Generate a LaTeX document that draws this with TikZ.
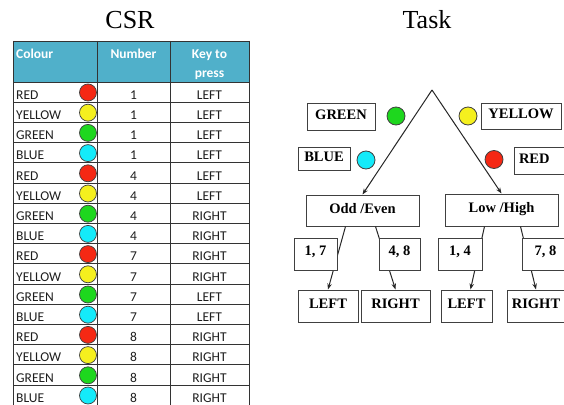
\documentclass[tikz,border=0pt]{standalone}
\usepackage{fontspec}
\setmainfont{Liberation Serif}
\newfontfamily\calib{Carlito}
\usetikzlibrary{arrows.meta}
\definecolor{cRED}{RGB}{245,40,20}
\definecolor{cYELLOW}{RGB}{245,240,30}
\definecolor{cGREEN}{RGB}{30,215,30}
\definecolor{cBLUE}{RGB}{20,235,250}
\definecolor{headbg}{RGB}{80,176,202}
\definecolor{celltxt}{RGB}{30,30,30}
\tikzset{
  titletext/.style={font=\fontsize{26}{26}\selectfont, inner sep=0, anchor=base},
  celltext/.style={font=\calib\fontsize{13.5}{13.5}\selectfont, text=celltxt, inner sep=0},
  headtext/.style={font=\calib\bfseries\fontsize{13.5}{13.5}\selectfont, text=white, inner sep=0},
  gridline/.style={draw=black!80, line width=0.8pt},
  dot/.style={circle, draw=black!75, line width=0.7pt, minimum size=17pt, inner sep=0},
  tdot/.style={circle, draw=black!75, line width=0.8pt, minimum size=18pt, inner sep=0},
  tbox/.style={draw=black!75, fill=white, line width=1pt, inner ysep=0, inner xsep=0,
    font=\bfseries\fontsize{14.5}{14.5}\selectfont, text height=10pt, text depth=5pt},
  conn/.style={draw=black!85, line width=1pt, -{Stealth[length=6pt,width=4.5pt]}},
}
\begin{document}
\begin{tikzpicture}[x=1pt,y=-1pt]
\useasboundingbox (0,0) rectangle (564,404);
\clip (0,0) rectangle (564,404);
\fill[white] (0,0) rectangle (564,404);
% titles
\node[titletext] (csr) at (130,29) {CSR};
\node[titletext] (task) at (427,29) {Task};
% table header
\fill[headbg] (13,41) rectangle (249,82);
\node[headtext, anchor=base west] (hcol) at (16,58.5) {Colour};
\node[headtext, anchor=base] (hnum) at (133.5,58.5) {Number};
\node[headtext, anchor=base] (hkey1) at (209.5,58.5) {Key to};
\node[headtext, anchor=base] (hkey2) at (209.5,77) {press};
% grid
\foreach \j in {0,...,16} {
  \draw[gridline] (13,{82+\j*20.2}) -- (249,{82+\j*20.2});
}
\draw[gridline] (13,41) -- (249,41);
\foreach \xx in {13,97,170,249} {
  \draw[gridline] (\xx,41) -- (\xx,410);
}
% rows
\foreach \c/\n/\k [count=\i] in {RED/1/LEFT, YELLOW/1/LEFT, GREEN/1/LEFT, BLUE/1/LEFT,
  RED/4/LEFT, YELLOW/4/LEFT, GREEN/4/RIGHT, BLUE/4/RIGHT,
  RED/7/RIGHT, YELLOW/7/RIGHT, GREEN/7/LEFT, BLUE/7/LEFT,
  RED/8/RIGHT, YELLOW/8/RIGHT, GREEN/8/RIGHT, BLUE/8/RIGHT} {
  \pgfmathsetmacro\rtop{82+(\i-1)*20.2}
  \node[celltext, anchor=base west] (col\i) at (16,{\rtop+17.2}) {\c};
  \node[dot, fill=c\c] (dot\i) at (88,{\rtop+10.5}) {};
  \node[celltext, anchor=base] (num\i) at (133.5,{\rtop+17.2}) {\n};
  \node[celltext, anchor=base] (key\i) at (209.5,{\rtop+17.2}) {\k};
}
% task diagram
\coordinate (apex) at (432,90);
\node[tbox, minimum width=68pt, minimum height=27pt] (greenbox) at (341,116.5) {GREEN};
\node[tbox, minimum width=52pt, minimum height=23pt] (bluebox) at (324,158.5) {BLUE};
\node[tbox, minimum width=80pt, minimum height=26pt] (yellowbox) at (521,116) {YELLOW};
\node[tbox, minimum height=27pt, text width=44pt, align=left, inner xsep=5pt] (redbox) at (541,160.5) {RED};
\node[tdot, fill=cGREEN] (greendot) at (396,116) {};
\node[tdot, fill=cBLUE] (bluedot) at (366,160) {};
\node[tdot, fill=cYELLOW] (yellowdot) at (468,116) {};
\node[tdot, fill=cRED] (reddot) at (494,159.5) {};
\node[tbox, minimum width=113pt, minimum height=31pt] (oddeven) at (362.5,210.5) {Odd /Even};
\node[tbox, minimum width=113pt, minimum height=32pt] (lowhigh) at (501.5,210) {Low /High};
\node[tbox, minimum width=60pt, minimum height=32pt] (left1) at (328,306) {LEFT};
\node[tbox, minimum width=69pt, minimum height=32pt] (right1) at (395.5,306) {RIGHT};
\node[tbox, minimum width=51pt, minimum height=32pt] (left2) at (466.5,306) {LEFT};
\node[tbox, minimum width=58pt, minimum height=32pt] (right2) at (536,306) {RIGHT};
\draw[conn] (apex) -- (oddeven.north);
\draw[conn] (apex) -- (lowhigh.north);
\draw[conn] ([xshift=40pt]oddeven.south west) -- (left1.north);
\draw[conn] ([xshift=70pt]oddeven.south west) -- (right1.north);
\draw[conn] ([xshift=40pt]lowhigh.south west) -- ([xshift=30pt]left2.north west);
\draw[conn] ([xshift=76pt]lowhigh.south west) -- (right2.north);
\node[tbox, minimum width=43pt, minimum height=32pt, text depth=7pt] (n17) at (315.5,254) {1, 7};
\node[tbox, minimum width=41pt, minimum height=32pt, text depth=7pt] (n48) at (399.5,254) {4, 8};
\node[tbox, minimum width=44pt, minimum height=32pt, text depth=7pt] (n14) at (460,254) {1, 4};
\node[tbox, minimum width=47pt, minimum height=32pt, text depth=7pt] (n78) at (545.5,254) {7, 8};
\end{tikzpicture}
\end{document}
